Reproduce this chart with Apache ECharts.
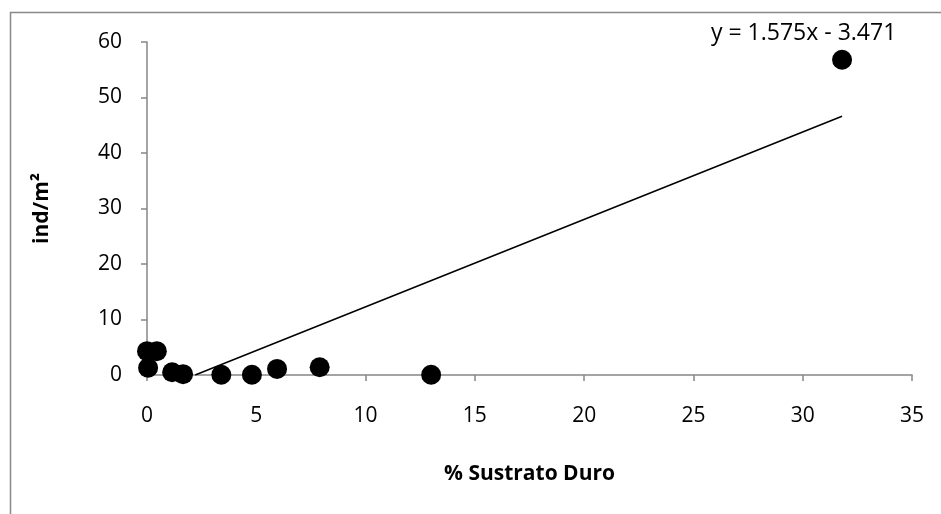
<!DOCTYPE html>
<html>
<head>
<meta charset="utf-8">
<script src="https://cdn.jsdelivr.net/npm/echarts@6/dist/echarts.min.js"></script>
<style>
html,body{margin:0;padding:0;background:#fff;}
#c{width:941px;height:514px;}
</style>
</head>
<body>
<div id="c"></div>
<script>
// Data
var xValues = [0, 0.45, 0.05, 1.15, 1.65, 3.4, 4.8, 5.95, 7.9, 13.0, 31.8];
var yValues = [4.3, 4.3, 1.3, 0.5, 0.15, 0.05, 0.05, 1.1, 1.4, 0.05, 56.8];
var trendSlope = 1.575;
var trendIntercept = -3.471;
var xTicks = [0, 5, 10, 15, 20, 25, 30, 35];
var yTicks = [0, 10, 20, 30, 40, 50, 60];
var equationText = 'y = 1.575x - 3.471';

var points = xValues.map(function (x, i) { return [x, yValues[i]]; });
var xMax = Math.max.apply(null, xValues);
var xStart = Math.max(Math.min.apply(null, xValues), -trendIntercept / trendSlope);
var trendLine = [[xStart, trendSlope * xStart + trendIntercept], [xMax, trendSlope * xMax + trendIntercept]];

var font = '"Open Sans", "Noto Sans", sans-serif';
var chart = echarts.init(document.getElementById('c'));
chart.setOption({
  animation: false,
  backgroundColor: '#fff',
  grid: { left: 147, right: 29, top: 42, bottom: 139, containLabel: false },
  graphic: [
    { type: 'rect', shape: { x: 10.5, y: 12.5, width: 960, height: 560 }, style: { fill: 'none', stroke: '#898989', lineWidth: 1.5 }, z: 0 },
    { type: 'text', left: 711, top: 22, style: { text: equationText, font: '23px ' + font, fill: '#000' }, z: 10 }
  ],
  xAxis: {
    type: 'value', min: xTicks[0], max: xTicks[xTicks.length - 1], interval: 5,
    name: '% Sustrato Duro', nameLocation: 'middle', nameGap: 89,
    nameTextStyle: { fontFamily: font, fontWeight: 'bold', fontSize: 21, color: '#000' },
    axisLine: { show: true, lineStyle: { color: '#868686', width: 1.5 } },
    axisTick: { show: true, inside: false, length: 6, lineStyle: { color: '#868686', width: 1.5 } },
    axisLabel: { margin: 31, fontFamily: font, fontSize: 21, color: '#000' },
    splitLine: { show: false }
  },
  yAxis: {
    type: 'value', min: yTicks[0], max: yTicks[yTicks.length - 1], interval: 10,
    name: 'ind/m²', nameLocation: 'middle', nameGap: 94, nameRotate: 90,
    nameTextStyle: { fontFamily: font, fontWeight: 'bold', fontSize: 21, color: '#000' },
    axisLine: { show: true, lineStyle: { color: '#868686', width: 1.5 } },
    axisTick: { show: true, inside: false, length: 6, lineStyle: { color: '#868686', width: 1.5 } },
    axisLabel: { margin: 25, fontFamily: font, fontSize: 21, color: '#000' },
    splitLine: { show: false }
  },
  series: [
    {
      type: 'line', data: trendLine, showSymbol: false, symbol: 'none',
      lineStyle: { color: '#000', width: 1.5 }, z: 3, silent: true
    },
    {
      type: 'scatter', data: points, symbol: 'circle', symbolSize: 20,
      itemStyle: { color: '#000', opacity: 1 }, z: 4
    }
  ]
});
</script>
</body>
</html>
